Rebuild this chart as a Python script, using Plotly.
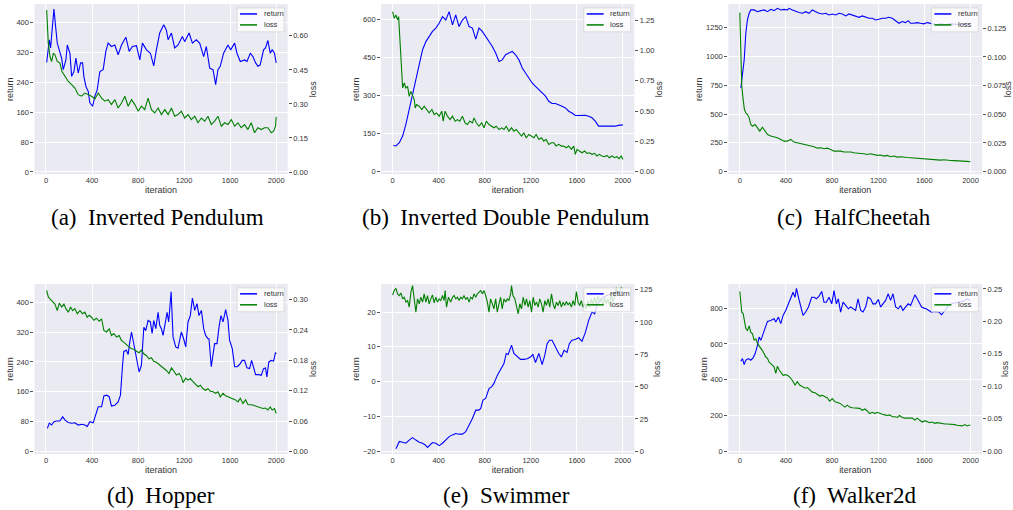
import plotly.graph_objects as go

# ---------------- data ----------------
A_RET_IT = [6,29,40,69,98,121,136,150,173,185,208,223,243,260,280,301,318,329,347,367,381,405,425,445,468,497,520,540,569,598,627,656,694,723,751,786,815,838,873,907,936,959,988,1023,1046,1061,1090,1118,1147,1185,1205,1243,1272,1306,1335,1370,1393,1422,1451,1474,1494,1514,1543,1581,1604,1639,1659,1688,1725,1746,1775,1798,1821,1841,1861,1890,1907,1928,1948,1965,1985,2000]
A_RET = [293,354,332,436,345,318,305,274,300,340,318,256,269,305,265,292,292,256,229,216,185,176,203,220,269,274,323,345,336,340,314,340,361,323,336,338,300,345,327,318,284,327,372,394,380,354,372,332,340,363,349,372,345,354,345,309,336,278,274,234,274,283,318,340,327,345,318,296,300,296,318,309,292,283,287,327,332,352,318,327,318,292]
A_LOSS_IT = [6,20,35,49,64,78,98,121,139,165,194,223,251,280,309,338,367,396,425,454,483,512,540,569,598,627,656,685,714,743,772,801,829,858,887,916,945,974,1003,1032,1061,1090,1118,1147,1176,1205,1234,1263,1292,1321,1350,1379,1407,1436,1465,1494,1523,1552,1581,1610,1639,1668,1696,1725,1754,1783,1812,1841,1870,1899,1928,1957,1977,1994,2000]
A_LOSS = [0.714,0.568,0.509,0.487,0.524,0.517,0.487,0.480,0.443,0.421,0.399,0.385,0.370,0.341,0.334,0.348,0.341,0.334,0.322,0.348,0.326,0.312,0.319,0.297,0.319,0.282,0.304,0.334,0.290,0.319,0.297,0.268,0.290,0.275,0.326,0.275,0.260,0.282,0.253,0.275,0.253,0.282,0.246,0.253,0.268,0.238,0.253,0.231,0.246,0.217,0.238,0.224,0.246,0.209,0.224,0.246,0.202,0.217,0.209,0.231,0.202,0.217,0.195,0.209,0.187,0.217,0.173,0.195,0.187,0.195,0.195,0.173,0.180,0.202,0.243]

B_RET_IT = [6,29,58,87,115,144,173,202,231,260,289,317,346,375,404,433,462,491,520,548,577,606,635,664,693,722,750,779,808,837,866,895,924,952,981,1010,1039,1068,1097,1126,1154,1183,1212,1241,1270,1299,1328,1356,1385,1414,1443,1472,1501,1530,1558,1587,1616,1645,1674,1703,1732,1760,1789,1818,1847,1876,1905,1934,1962,2000]
B_RET = [103,101,114,140,186,244,303,362,414,480,512,532,552,565,584,610,597,630,578,617,571,597,610,571,565,522,565,552,532,512,493,467,434,440,460,467,473,460,440,408,388,369,349,336,323,310,297,277,268,268,264,257,251,238,231,221,221,222,222,218,212,199,179,179,179,179,179,179,182,184]
B_LOSS_IT = [0,14,29,43,52,63,72,81,87,101,115,130,144,159,173,188,196,208,231,254,274,294,317,341,361,381,404,427,439,456,476,499,520,543,563,583,606,629,649,670,693,707,727,750,773,794,814,837,860,880,900,924,947,967,987,1010,1033,1053,1074,1097,1120,1140,1160,1183,1206,1227,1247,1270,1293,1313,1333,1356,1380,1400,1420,1443,1466,1486,1507,1530,1553,1573,1587,1602,1622,1645,1668,1688,1709,1732,1755,1775,1795,1818,1841,1861,1882,1905,1928,1948,1968,1986,2000]
B_LOSS = [1.321,1.266,1.294,1.253,1.280,1.116,1.006,0.841,0.691,0.732,0.691,0.704,0.622,0.663,0.636,0.595,0.526,0.554,0.540,0.513,0.540,0.513,0.485,0.513,0.471,0.485,0.458,0.499,0.417,0.499,0.458,0.430,0.458,0.417,0.430,0.417,0.458,0.403,0.389,0.417,0.403,0.444,0.403,0.375,0.403,0.362,0.417,0.389,0.375,0.362,0.375,0.348,0.362,0.348,0.375,0.334,0.362,0.334,0.348,0.321,0.293,0.321,0.280,0.307,0.293,0.280,0.307,0.266,0.280,0.252,0.266,0.225,0.238,0.238,0.211,0.225,0.211,0.211,0.197,0.211,0.184,0.211,0.143,0.184,0.170,0.156,0.170,0.151,0.156,0.143,0.151,0.129,0.143,0.129,0.123,0.134,0.115,0.129,0.115,0.123,0.107,0.129,0.101]

C_RET_IT = [9,23,38,52,66,81,95,124,153,182,211,240,268,297,326,355,384,413,427,456,485,514,543,571,600,629,658,687,716,745,773,802,831,860,889,918,947,975,1004,1033,1062,1091,1120,1149,1178,1206,1235,1264,1293,1322,1351,1380,1408,1437,1460,1481,1509,1538,1567,1596,1625,1654,1683,1711,1740,1784,1827,1870,1913,1957,2000]
C_RET = [726,827,971,1201,1316,1374,1403,1403,1388,1397,1403,1388,1408,1397,1417,1403,1408,1403,1417,1403,1388,1380,1374,1388,1374,1403,1388,1374,1368,1374,1359,1368,1359,1374,1368,1351,1368,1359,1345,1339,1351,1339,1331,1331,1316,1322,1331,1331,1339,1331,1310,1287,1302,1293,1310,1287,1287,1293,1287,1282,1293,1287,1282,1273,1282,1273,1282,1276,1276,1282,1279]
C_LOSS_IT = [0,9,17,29,40,52,66,81,95,110,133,153,173,196,219,240,268,297,326,355,384,413,442,470,499,528,557,586,615,644,672,701,730,759,788,817,846,874,903,932,961,990,1019,1048,1076,1105,1134,1163,1192,1221,1250,1278,1307,1336,1365,1394,1423,1452,1481,1509,1538,1567,1596,1625,1654,1683,1711,1740,1769,1798,1827,1856,1885,1913,1942,1971,2000]
C_LOSS = [0.1386,0.1062,0.0744,0.0628,0.0541,0.0512,0.0498,0.0469,0.0411,0.0396,0.0411,0.0382,0.0353,0.0388,0.0353,0.0324,0.0310,0.0304,0.0295,0.0281,0.0266,0.0266,0.0281,0.0258,0.0252,0.0243,0.0237,0.0229,0.0223,0.0217,0.0205,0.0208,0.0200,0.0205,0.0194,0.0179,0.0179,0.0179,0.0171,0.0174,0.0171,0.0165,0.0165,0.0159,0.0156,0.0150,0.0156,0.0148,0.0142,0.0145,0.0136,0.0142,0.0130,0.0136,0.0127,0.0130,0.0124,0.0124,0.0122,0.0119,0.0116,0.0113,0.0110,0.0113,0.0107,0.0107,0.0104,0.0101,0.0104,0.0098,0.0098,0.0096,0.0096,0.0093,0.0090,0.0090,0.0087]

D_RET_IT = [12,29,49,69,92,121,145,165,194,223,251,280,309,338,358,381,410,434,454,483,503,526,549,569,598,627,647,665,676,699,714,728,743,757,772,792,809,829,850,867,887,907,922,936,954,974,988,1003,1017,1035,1052,1066,1087,1104,1127,1147,1176,1196,1214,1234,1254,1272,1292,1312,1329,1350,1370,1387,1407,1416,1436,1465,1486,1503,1520,1538,1561,1581,1595,1618,1639,1659,1682,1705,1725,1746,1769,1786,1803,1821,1850,1870,1890,1907,1919,1936,1957,1977,1994,2000]
D_RET = [62,76,71,80,82,82,93,84,78,76,77,71,73,71,67,80,77,102,120,120,149,151,147,122,124,133,151,231,268,271,260,293,320,298,271,236,213,231,333,324,351,347,316,351,329,373,338,329,311,342,373,347,428,307,280,277,320,302,280,347,364,411,378,396,364,378,329,311,302,302,227,289,289,333,364,347,380,351,298,276,227,227,233,244,244,224,222,244,222,206,206,204,222,224,200,240,244,242,265,262]
D_LOSS_IT = [6,20,35,58,78,98,116,136,156,173,194,214,231,251,272,295,318,338,358,376,396,416,439,462,483,503,526,549,569,590,613,636,656,676,699,723,743,763,786,809,829,850,873,896,916,936,959,983,1003,1023,1046,1069,1090,1110,1133,1156,1176,1191,1214,1234,1254,1277,1301,1321,1341,1364,1387,1407,1428,1451,1474,1494,1514,1538,1561,1581,1601,1624,1647,1668,1688,1711,1734,1754,1775,1798,1821,1841,1861,1884,1907,1928,1948,1965,1985,2000]
D_LOSS = [0.318,0.305,0.301,0.295,0.291,0.278,0.293,0.285,0.291,0.282,0.275,0.285,0.278,0.282,0.272,0.278,0.272,0.275,0.265,0.269,0.265,0.259,0.263,0.257,0.262,0.239,0.236,0.242,0.229,0.233,0.226,0.229,0.219,0.216,0.210,0.206,0.203,0.202,0.198,0.195,0.200,0.193,0.189,0.183,0.185,0.178,0.176,0.172,0.169,0.164,0.160,0.154,0.165,0.159,0.151,0.154,0.147,0.136,0.145,0.141,0.144,0.138,0.132,0.128,0.131,0.124,0.121,0.124,0.119,0.118,0.115,0.118,0.108,0.115,0.110,0.108,0.106,0.103,0.102,0.098,0.105,0.095,0.102,0.093,0.093,0.092,0.090,0.088,0.086,0.085,0.086,0.082,0.088,0.082,0.085,0.075]

E_RET_IT = [29,58,87,115,144,173,202,231,260,283,303,323,346,375,404,433,462,491,520,548,577,606,635,664,693,722,750,765,785,808,823,837,860,880,909,938,967,987,1004,1016,1033,1053,1082,1111,1140,1169,1198,1218,1241,1270,1299,1322,1342,1362,1385,1414,1443,1466,1489,1515,1535,1558,1587,1616,1645,1674,1703,1732,1755,1775,1804,1833,1861,1890,1919,1957,2000]
E_RET = [-19.3,-17.2,-17.4,-17.7,-16.8,-16.1,-16.8,-17.4,-17.7,-18.2,-18.9,-18.2,-17.5,-17.7,-18.4,-17.7,-16.8,-15.8,-15.3,-14.9,-15.1,-15.1,-14.4,-12.5,-10.6,-8.2,-8.2,-7.7,-5.3,-4.8,-3.4,-2.0,-1.5,-0.5,1.8,3.3,5.2,8.1,7.8,9.0,10.5,8.1,7.1,6.4,6.4,6.6,7.1,7.8,5.5,8.1,4.9,7.6,10.9,11.9,11.9,10.0,8.1,7.1,9.0,8.4,10.9,11.9,12.1,12.6,11.6,14.1,17.6,20.0,19.5,21.9,23.6,24.3,24.8,25.3,25.6,25.8,26.0]
E_LOSS_IT = [0,14,29,43,58,72,87,101,115,130,144,159,173,188,202,216,231,245,260,274,289,303,317,332,346,361,375,390,404,418,433,447,456,468,485,505,520,534,548,563,577,592,606,620,635,649,664,678,693,707,722,736,750,765,779,794,808,823,837,851,866,880,895,909,924,938,952,967,981,996,1010,1025,1033,1045,1062,1076,1091,1105,1120,1134,1149,1163,1177,1192,1206,1221,1235,1250,1264,1278,1293,1307,1322,1336,1351,1365,1380,1394,1408,1423,1437,1452,1466,1481,1495,1509,1524,1538,1553,1567,1582,1596,1611,1625,1639,1654,1668,1683,1697,1712,1726,1740,1755,1769,1784,1798,1813,1827,1841,1856,1870,1885,1899,1914,1928,1942,1957,1971,1986,2000]
E_LOSS = [120.9,124.2,126.0,121.7,120.4,122.4,117.8,119.1,115.3,116.5,111.4,123.0,128.1,117.8,107.6,117.8,114.0,119.1,115.3,121.7,115.3,120.4,114.0,117.8,120.9,114.7,119.1,115.3,117.8,116.5,120.4,116.5,124.2,111.4,119.1,115.3,119.1,120.4,117.8,119.1,116.5,119.1,117.8,120.4,117.3,119.1,115.3,119.1,117.8,121.7,119.1,121.7,123.0,124.2,121.7,124.2,120.4,115.3,107.6,117.8,114.0,110.1,117.8,107.6,114.0,119.1,110.1,117.8,115.3,117.8,116.5,121.7,128.1,120.4,117.8,112.7,106.3,114.0,110.1,119.1,112.7,117.8,111.4,116.5,107.6,119.1,112.7,115.3,111.4,117.8,114.0,107.6,116.5,112.7,117.8,111.4,121.7,114.0,110.1,115.3,112.7,116.5,111.4,115.3,112.7,115.8,113.2,114.7,111.4,116.5,112.7,123.5,115.3,112.7,116.5,111.4,114.0,110.1,116.5,111.4,117.8,112.7,119.1,114.0,120.4,115.3,117.8,112.7,119.1,114.0,117.8,112.7,121.7,115.3,119.1,126.8,120.4,123.0,126.8,125.5]

F_RET_IT = [9,23,38,52,75,95,115,133,153,167,182,196,219,240,268,297,312,335,355,375,398,421,442,462,479,491,508,528,548,571,595,623,644,664,687,710,730,750,773,797,817,837,854,874,895,918,941,961,981,1004,1025,1048,1068,1091,1111,1134,1154,1177,1201,1221,1241,1264,1287,1307,1328,1351,1374,1394,1414,1437,1460,1481,1501,1518,1538,1553,1576,1596,1616,1639,1662,1683,1703,1726,1749,1769,1789,1812,1835,1864,1893,1922,1951,1971,2000]
F_RET = [503,518,484,509,518,509,522,546,592,638,620,648,694,726,731,741,722,750,713,759,787,824,861,889,861,911,861,806,759,778,806,861,861,852,867,893,833,833,861,824,898,824,852,778,833,815,796,806,796,787,852,787,778,806,861,852,824,824,848,806,824,843,880,843,880,806,796,815,787,806,824,815,852,874,852,833,806,800,796,787,778,781,778,778,763,778,796,815,824,830,833,837,843,852,843]
F_LOSS_IT = [0,9,17,29,40,52,66,81,95,110,124,139,153,167,182,196,211,225,240,254,268,283,297,312,326,341,355,375,393,413,433,456,479,499,519,543,566,586,606,629,652,672,693,716,739,759,779,802,825,846,866,889,912,932,952,975,999,1019,1039,1062,1085,1105,1126,1149,1172,1192,1212,1235,1258,1278,1299,1322,1345,1365,1385,1408,1431,1452,1472,1495,1518,1538,1558,1582,1605,1625,1645,1668,1691,1711,1732,1755,1778,1798,1818,1841,1864,1885,1905,1928,1951,1971,1986,2000]
F_LOSS = [0.246,0.227,0.214,0.212,0.201,0.189,0.186,0.193,0.183,0.181,0.171,0.173,0.166,0.163,0.158,0.155,0.150,0.145,0.143,0.137,0.135,0.132,0.130,0.120,0.131,0.125,0.122,0.117,0.118,0.117,0.114,0.109,0.102,0.107,0.102,0.099,0.097,0.098,0.094,0.091,0.090,0.087,0.085,0.086,0.084,0.082,0.077,0.081,0.076,0.075,0.074,0.071,0.068,0.071,0.068,0.067,0.067,0.066,0.066,0.063,0.065,0.062,0.058,0.060,0.058,0.060,0.058,0.057,0.056,0.055,0.056,0.053,0.053,0.052,0.055,0.052,0.051,0.051,0.050,0.051,0.048,0.051,0.048,0.045,0.047,0.045,0.044,0.045,0.043,0.044,0.043,0.043,0.042,0.042,0.042,0.041,0.041,0.040,0.040,0.039,0.041,0.039,0.040,0.040]

CAPTIONS = ["(a)\u00a0 Inverted Pendulum", "(b)\u00a0 Inverted Double Pendulum", "(c)\u00a0 HalfCheetah",
            "(d)\u00a0 Hopper", "(e)\u00a0 Swimmer", "(f)\u00a0 Walker2d"]
X_TICKS = [0, 400, 800, 1200, 1600, 2000]
RET_TICKS = [[0, 80, 160, 240, 320, 400], [0, 150, 300, 450, 600], [0, 250, 500, 750, 1000, 1250],
             [0, 80, 160, 240, 320, 400], [-20, -10, 0, 10, 20], [0, 200, 400, 600, 800]]
LOSS_TICKS = [[0, 0.15, 0.30, 0.45, 0.60], [0, 0.25, 0.5, 0.75, 1.0, 1.25], [0, 0.025, 0.05, 0.075, 0.1, 0.125],
              [0, 0.06, 0.12, 0.18, 0.24, 0.30], [0, 25, 50, 75, 100, 125], [0, 0.05, 0.10, 0.15, 0.20, 0.25]]
SERIES_NAMES = ["return", "loss"]

RET_X = [A_RET_IT, B_RET_IT, C_RET_IT, D_RET_IT, E_RET_IT, F_RET_IT]
RET_Y = [A_RET, B_RET, C_RET, D_RET, E_RET, F_RET]
LOSS_X = [A_LOSS_IT, B_LOSS_IT, C_LOSS_IT, D_LOSS_IT, E_LOSS_IT, F_LOSS_IT]
LOSS_Y = [A_LOSS, B_LOSS, C_LOSS, D_LOSS, E_LOSS, F_LOSS]

# ---------------- layout geometry / styles ----------------
W, H = 1013, 510
def px(x): return x / W
def py(y): return 1 - y / H

BOXES = [(34.5, 4, 288, 175), (381.5, 4, 635, 175), (729, 4, 983, 175),
         (34.5, 285, 288, 456), (381.5, 285, 635, 456), (729, 285, 983, 456)]
RET_RANGES = [(-6.2, 449.8), (-10.5, 660), (-23, 1454.5), (-7.1, 448.9), (-20.86, 28.1), (-16.7, 935.5)]
LOSS_RANGES = [(-0.0102, 0.7405), (-0.022, 1.384), (-0.0023, 0.1461), (-0.0052, 0.3308), (-2.3, 129.4), (-0.0046, 0.2577)]
LOSS_FMT = [".2f", ".2f", ".3f", ".2f", "d", ".2f"]
LOSS_STANDOFF = [2, 2, 0, 2, 2, 0]
CAP_POS = [(158, 218), (506, 218), (855, 218), (161, 497), (507, 497), (855, 497)]

BLUE, GREEN = "#0000ff", "#008000"
SANS = "Liberation Sans, Arial, sans-serif"
TXT = "#333333"
TICKFONT = dict(family=SANS, size=7.5, color=TXT)
TITLEFONT = dict(family=SANS, size=9, color=TXT)

fig = go.Figure()
layout = dict(width=W, height=H, margin=dict(l=0, r=0, t=0, b=0),
              paper_bgcolor="white", plot_bgcolor="#EAEAF2", showlegend=False)
shapes, annotations = [], []

for i in range(6):
    k = i + 1
    xs = "" if k == 1 else str(k)
    ys_ret = "" if k == 1 else str(k)
    ys_loss = str(k + 6)
    fig.add_trace(go.Scatter(x=RET_X[i], y=RET_Y[i], mode="lines", name=SERIES_NAMES[0],
                             line=dict(color=BLUE, width=1.1), xaxis="x" + xs, yaxis="y" + ys_ret))
    fig.add_trace(go.Scatter(x=LOSS_X[i], y=LOSS_Y[i], mode="lines", name=SERIES_NAMES[1],
                             line=dict(color=GREEN, width=1.1), xaxis="x" + xs, yaxis="y" + ys_loss))
    l, t, r, b = BOXES[i]
    layout["xaxis" + xs] = dict(domain=[px(l), px(r)], range=[-100, 2100], anchor="y" + ys_ret,
                                tickmode="array", tickvals=X_TICKS, ticks="", tickfont=TICKFONT,
                                showgrid=True, gridcolor="white", gridwidth=1, zeroline=False, showline=False,
                                title=dict(text="iteration", font=TITLEFONT, standoff=2))
    layout["yaxis" + ys_ret] = dict(domain=[py(b), py(t)], range=list(RET_RANGES[i]), anchor="x" + xs,
                                    tickmode="array", tickvals=RET_TICKS[i], ticks="outside", ticklen=3,
                                    tickwidth=1, tickcolor="#555555", tickfont=TICKFONT,
                                    showgrid=True, gridcolor="white", gridwidth=1, zeroline=False, showline=False,
                                    title=dict(text="return", font=TITLEFONT, standoff=1))
    layout["yaxis" + ys_loss] = dict(overlaying="y" + ys_ret, side="right", anchor="x" + xs,
                                     range=list(LOSS_RANGES[i]), tickmode="array", tickvals=LOSS_TICKS[i],
                                     tickformat=LOSS_FMT[i], ticks="outside", ticklen=3, tickwidth=1,
                                     tickcolor="#555555", tickfont=TICKFONT, showgrid=False, zeroline=False,
                                     showline=False,
                                     title=dict(text="loss", font=TITLEFONT, standoff=LOSS_STANDOFF[i]))
    # legend box (drawn like matplotlib's upper-right legend)
    bl, br = r - 3.7 - 47, r - 3.7
    bt, bb = t + 4, t + 28
    shapes.append(dict(type="rect", xref="paper", yref="paper", x0=px(bl), x1=px(br), y0=py(bb), y1=py(bt),
                       line=dict(color="#d5d5d5", width=0.8), fillcolor="rgba(255,255,255,0.8)", layer="above"))
    for j, (col, yy) in enumerate([(BLUE, t + 10), (GREEN, t + 21)]):
        shapes.append(dict(type="line", xref="paper", yref="paper", x0=px(bl + 3), x1=px(bl + 20),
                           y0=py(yy), y1=py(yy), line=dict(color=col, width=1.5), layer="above"))
        annotations.append(dict(text=SERIES_NAMES[j], xref="paper", yref="paper", x=px(bl + 24.5), y=py(yy),
                                xanchor="left", yanchor="middle", showarrow=False,
                                font=dict(family=SANS, size=7.5, color=TXT)))
    cx, cy = CAP_POS[i]
    annotations.append(dict(text=CAPTIONS[i], xref="paper", yref="paper", x=px(cx), y=py(cy),
                            xanchor="center", yanchor="middle", showarrow=False,
                            font=dict(family="Liberation Serif, Times New Roman, serif", size=23, color="black")))

layout["shapes"] = shapes
layout["annotations"] = annotations
fig.update_layout(**layout)
fig.write_html("out.html", config={"displayModeBar": False},
               post_script="document.body.style.margin='0';document.body.style.overflow='hidden';")
